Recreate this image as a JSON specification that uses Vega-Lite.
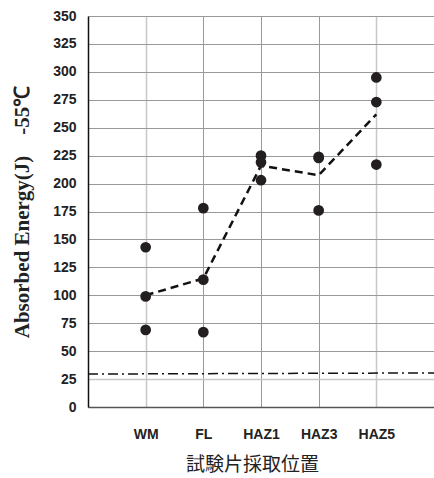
{
  "$schema": "https://vega.github.io/schema/vega-lite/v6.json",
  "width": 346,
  "height": 391,
  "autosize": {"type": "none"},
  "padding": {"left": 88, "top": 16, "right": 0, "bottom": 71},
  "background": "white",
  "config": {"view": {"stroke": null}},
  "datasets": {
    "pts": [
      {"pos": 1, "loc": "WM", "J": 143},
      {"pos": 1, "loc": "WM", "J": 99},
      {"pos": 1, "loc": "WM", "J": 69},
      {"pos": 2, "loc": "FL", "J": 178},
      {"pos": 2, "loc": "FL", "J": 114},
      {"pos": 2, "loc": "FL", "J": 67},
      {"pos": 3, "loc": "HAZ1", "J": 225},
      {"pos": 3, "loc": "HAZ1", "J": 219},
      {"pos": 3, "loc": "HAZ1", "J": 203},
      {"pos": 4, "loc": "HAZ3", "J": 224},
      {"pos": 4, "loc": "HAZ3", "J": 223},
      {"pos": 4, "loc": "HAZ3", "J": 176},
      {"pos": 5, "loc": "HAZ5", "J": 295},
      {"pos": 5, "loc": "HAZ5", "J": 273},
      {"pos": 5, "loc": "HAZ5", "J": 217}
    ],
    "avg": [
      {"pos": 1, "J": 100},
      {"pos": 2, "J": 115},
      {"pos": 3, "J": 216},
      {"pos": 4, "J": 207.5},
      {"pos": 5, "J": 262}
    ],
    "req": [
      {"pos": 0, "J": 29.5},
      {"pos": 6, "J": 30.5}
    ]
  },
  "encoding": {
    "x": {
      "field": "pos",
      "type": "quantitative",
      "scale": {"domain": [0, 6], "nice": false, "zero": false},
      "axis": {
        "values": [1, 2, 3, 4, 5],
        "labelExpr": "['','WM','FL','HAZ1','HAZ3','HAZ5'][datum.value]",
        "title": "試験片採取位置",
        "titleFont": "Noto Sans CJK JP",
        "titleFontSize": 19,
        "titleFontWeight": "normal",
        "titleColor": "#222",
        "titlePadding": 14,
        "titleX": 164,
        "titleAlign": "center",
        "labelFont": "Liberation Sans",
        "labelFontSize": 14,
        "labelFontWeight": "bold",
        "labelColor": "#222",
        "labelPadding": 20,
        "ticks": false,
        "domainColor": "#555",
        "domainWidth": 1.5,
        "grid": true,
        "gridColor": {"condition": {"test": "datum.value == 1 || datum.value == 5", "value": "#c8c8c8"}, "value": "#999"},
        "gridWidth": {"condition": {"test": "datum.value == 1 || datum.value == 5", "value": 1.5}, "value": 1}
      }
    },
    "y": {
      "field": "J",
      "type": "quantitative",
      "scale": {"domain": [0, 350], "nice": false},
      "axis": {
        "values": [0, 25, 50, 75, 100, 125, 150, 175, 200, 225, 250, 275, 300, 325, 350],
        "title": "Absorbed Energy(J)\u00a0\u00a0\u00a0\u00a0-55℃",
        "titleFont": "Liberation Serif",
        "titleFontSize": 21,
        "titleFontWeight": "bold",
        "titleColor": "#222",
        "titlePadding": 20,
        "labelFont": "Liberation Sans",
        "labelFontSize": 14,
        "labelFontWeight": "bold",
        "labelColor": "#222",
        "labelPadding": 12,
        "ticks": false,
        "domainColor": "#111",
        "domainWidth": 1.5,
        "grid": true,
        "gridColor": {"condition": {"test": "datum.value == 25", "value": "#c8c8c8"}, "value": "#999"},
        "gridWidth": {"condition": {"test": "datum.value == 25", "value": 1.5}, "value": 1}
      }
    }
  },
  "layer": [
    {
      "data": {"name": "req"},
      "mark": {"type": "line", "color": "#111", "strokeWidth": 1.5, "strokeDash": [10, 4, 2, 4]}
    },
    {
      "data": {"name": "avg"},
      "mark": {"type": "line", "color": "#111", "strokeWidth": 2.5, "strokeDash": [8, 5]}
    },
    {
      "data": {"name": "pts"},
      "mark": {"type": "point", "filled": true, "shape": "circle", "size": 115, "color": "#231f20", "opacity": 1}
    }
  ]
}
